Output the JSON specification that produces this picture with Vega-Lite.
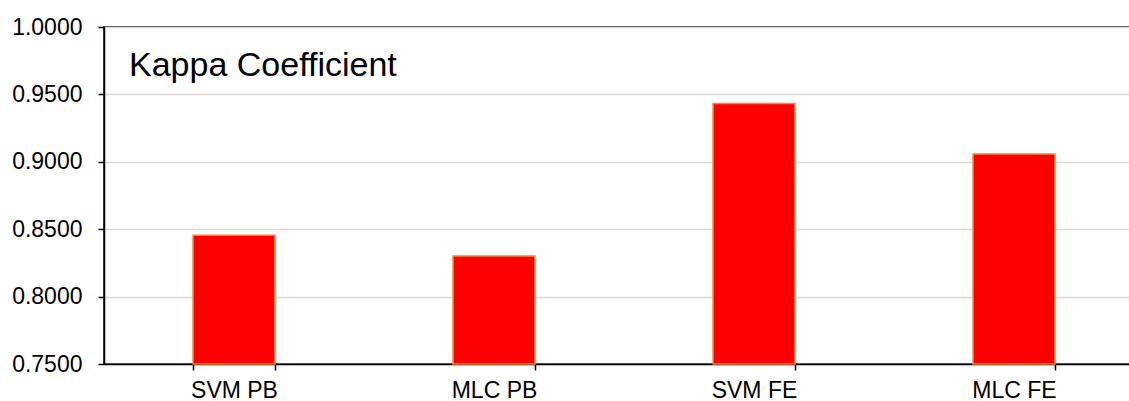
{
  "$schema": "https://vega.github.io/schema/vega-lite/v6.json",
  "width": 1040,
  "height": 337,
  "autosize": {"type": "none"},
  "padding": {"left": 104, "top": 27, "right": 0, "bottom": 37},
  "background": "white",
  "config": {
    "font": "Liberation Sans",
    "view": {"stroke": "black", "strokeWidth": 1.5}
  },
  "title": {
    "text": "Kappa Coefficient",
    "orient": "top",
    "anchor": "start",
    "frame": "group",
    "fontSize": 34,
    "fontWeight": "normal",
    "font": "Liberation Sans",
    "color": "black",
    "baseline": "alphabetic",
    "offset": -47,
    "dx": 25,
    "dy": 47
  },
  "data": {
    "values": [
      {"method": "SVM PB", "kappa": 0.8456},
      {"method": "MLC PB", "kappa": 0.8302},
      {"method": "SVM FE", "kappa": 0.9433},
      {"method": "MLC FE", "kappa": 0.9057}
    ]
  },
  "mark": {"type": "bar", "color": "#FF0000", "stroke": "#F0883A", "strokeWidth": 1.5},
  "encoding": {
    "x": {
      "field": "method",
      "type": "nominal",
      "sort": null,
      "scale": {"paddingInner": 0.685, "paddingOuter": 0.3425},
      "axis": {
        "title": null,
        "tickBand": "extent",
        "labelAngle": 0,
        "labelFontSize": 23,
        "labelColor": "black",
        "labelPadding": 9,
        "tickColor": "black",
        "tickSize": 6,
        "tickWidth": 1.5,
        "domainColor": "black",
        "domainWidth": 1.5,
        "grid": false
      }
    },
    "y": {
      "field": "kappa",
      "type": "quantitative",
      "scale": {"domain": [0.75, 1.0], "zero": false, "nice": false},
      "axis": {
        "title": null,
        "values": [0.75, 0.8, 0.85, 0.9, 0.95, 1.0],
        "format": ".4f",
        "labelFontSize": 23,
        "labelColor": "black",
        "labelPadding": 16,
        "tickColor": "black",
        "tickSize": 6,
        "tickWidth": 1.5,
        "domainColor": "black",
        "domainWidth": 1.5,
        "grid": true,
        "gridColor": "#D9D9D9",
        "gridWidth": 1.5
      }
    },
    "y2": {"datum": 0.75}
  }
}
